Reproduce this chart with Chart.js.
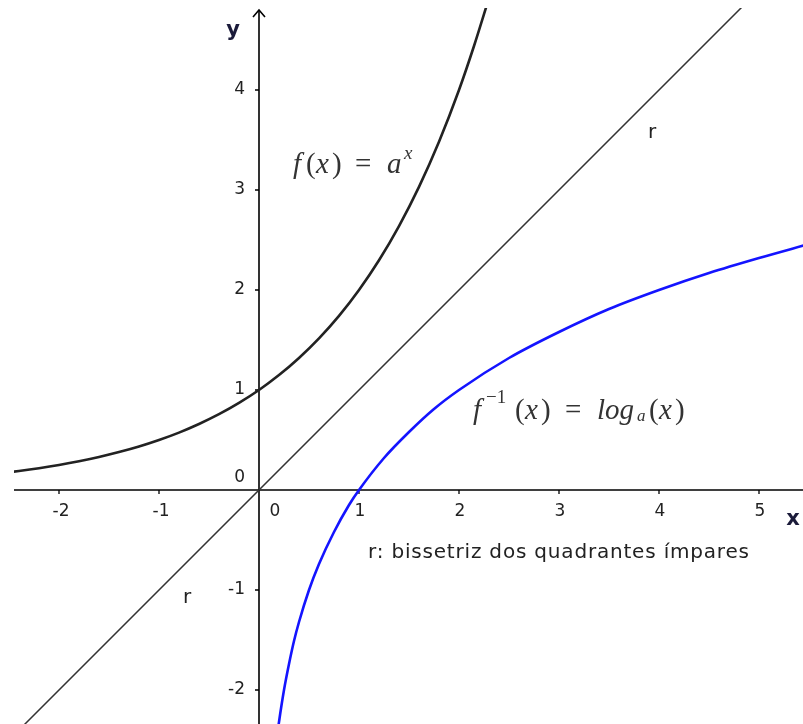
<!DOCTYPE html>
<html>
<head>
<meta charset="utf-8">
<script src="https://cdn.jsdelivr.net/npm/chart.js@4"></script>
<style>
  html, body { margin: 0; padding: 0; background: #fff; }
  #wrap { width: 803px; height: 724px; }
</style>
</head>
<body>
<div id="wrap"><canvas id="c" width="803" height="724"></canvas></div>
<script>
// values (axes cross at the origin)
const expX = [-2.6, -2.4, -2.2, -2, -1.8, -1.6, -1.4, -1.2, -1, -0.8, -0.6, -0.4, -0.2, 0, 0.2, 0.4, 0.6, 0.8, 1, 1.2, 1.4, 1.6, 1.8, 2, 2.15, 2.3];
const expY = [0.165, 0.19, 0.218, 0.25, 0.287, 0.33, 0.379, 0.435, 0.5, 0.574, 0.66, 0.758, 0.871, 1.0, 1.149, 1.32, 1.516, 1.741, 2.0, 2.297, 2.639, 3.031, 3.482, 4.0, 4.44, 4.92];

const logX = [0.18, 0.2, 0.25, 0.3, 0.35, 0.4, 0.5, 0.6, 0.75, 0.9, 1, 1.25, 1.5, 1.75, 2, 2.5, 3, 3.5, 4, 4.5, 5, 5.5];
const logY = [-2.47, -2.32, -2.00, -1.74, -1.51, -1.32, -1.00, -0.74, -0.42, -0.15, 0, 0.32, 0.58, 0.81, 1.00, 1.32, 1.58, 1.81, 2.00, 2.17, 2.32, 2.46];

const rX = [-2.6, 5.0];
const rY = [-2.6, 5.0];

const xTicks = [-2, -1, 1, 2, 3, 4, 5];
const yTicks = [-2, -1, 1, 2, 3, 4];

const xMin = -2.45, xMax = 5.44, yMin = -2.34, yMax = 4.82;

function pts(xs, ys) { return xs.map((x, i) => ({ x: x, y: ys[i] })); }

const SERIF = '"Liberation Serif", "DejaVu Serif", serif';
const SANS = '"DejaVu Sans", "Liberation Sans", sans-serif';

// draw a text stretched to a given width with letter spacing
function spacedText(ctx, txt, x, y, width) {
  ctx.letterSpacing = '0px';
  const w = ctx.measureText(txt).width;
  const sp = (width - w) / (txt.length - 1);
  ctx.letterSpacing = sp.toFixed(2) + 'px';
  ctx.fillText(txt, x, y);
  ctx.letterSpacing = '0px';
}

// pieces: [text, x, dy, font]
function mathText(ctx, y, pieces) {
  pieces.forEach(p => {
    ctx.font = p[3];
    ctx.fillText(p[0], p[1], y + p[2]);
  });
}

// draws the GeoGebra-style axes and all text
const axesPlugin = {
  id: 'axes',
  beforeDatasetsDraw(chart) {
    const ctx = chart.ctx;
    const sx = chart.scales.x, sy = chart.scales.y;
    const ox = sx.getPixelForValue(0), oy = sy.getPixelForValue(0);
    const a = chart.chartArea;
    ctx.save();
    ctx.strokeStyle = '#000';
    ctx.lineWidth = 1.6;
    ctx.beginPath();
    ctx.moveTo(a.left, oy); ctx.lineTo(a.right, oy);
    ctx.moveTo(ox, a.bottom); ctx.lineTo(ox, a.top + 2);
    ctx.stroke();
    // arrow on y axis
    ctx.beginPath();
    ctx.moveTo(ox - 6, a.top + 9); ctx.lineTo(ox, a.top + 2); ctx.lineTo(ox + 6, a.top + 9);
    ctx.stroke();
    // ticks
    ctx.lineWidth = 1.3;
    ctx.beginPath();
    xTicks.forEach(v => { const p = sx.getPixelForValue(v); ctx.moveTo(p, oy); ctx.lineTo(p, oy + 4); });
    yTicks.forEach(v => { const p = sy.getPixelForValue(v); ctx.moveTo(ox - 4, p); ctx.lineTo(ox, p); });
    ctx.stroke();
    // tick labels
    ctx.fillStyle = '#222';
    ctx.font = '17px ' + SANS;
    ctx.textBaseline = 'middle';
    ctx.textAlign = 'center';
    xTicks.forEach(v => ctx.fillText(String(v), sx.getPixelForValue(v) + (v < 0 ? 2 : 1), oy + 22));
    ctx.textAlign = 'right';
    yTicks.forEach(v => ctx.fillText(String(v), ox - 14, sy.getPixelForValue(v)));
    ctx.fillText('0', ox - 14, oy - 12);
    ctx.textAlign = 'center';
    ctx.fillText('0', ox + 16, oy + 22);
    // axis names
    ctx.fillStyle = '#1b1b3a';
    ctx.font = 'bold 21px ' + SANS;
    ctx.fillText('y', 233, 31);
    ctx.fillText('x', 793, 520);
    // other labels
    ctx.fillStyle = '#222';
    ctx.font = '20px ' + SANS;
    ctx.textAlign = 'left';
    ctx.fillText('r', 648, 133);
    ctx.fillText('r', 183, 598);
    ctx.font = '20px ' + SANS;
    spacedText(ctx, 'r: bissetriz dos quadrantes ímpares', 368, 553, 381);
    // formulas
    ctx.fillStyle = '#333';
    const it = 'italic 29px ' + SERIF, rm = '29px ' + SERIF;
    mathText(ctx, 165, [
      ['f', 293, 0, it], ['(', 306, 0, rm], ['x', 316, 0, it], [')', 332, 0, rm],
      ['=', 355, 0, rm], ['a', 387, 0, it], ['x', 404, -11, 'italic 19px ' + SERIF]
    ]);
    mathText(ctx, 411, [
      ['f', 473, 0, it], ['\u22121', 486, -13, '19px ' + SERIF], ['(', 515, 0, rm], ['x', 525, 0, it], [')', 541, 0, rm],
      ['=', 565, 0, rm], ['log', 597, 0, it], ['a', 637, 6, 'italic 17px ' + SERIF],
      ['(', 649, 0, rm], ['x', 659, 0, it], [')', 675, 0, rm]
    ]);
    ctx.restore();
  }
};

new Chart(document.getElementById('c'), {
  type: 'scatter',
  data: {
    datasets: [
      { label: 'r', data: pts(rX, rY), showLine: true, borderColor: '#333', borderWidth: 1.5, pointRadius: 0, tension: 0 },
      { label: 'f(x) = a^x', data: pts(expX, expY), showLine: true, borderColor: '#222', borderWidth: 2.6, pointRadius: 0, cubicInterpolationMode: 'monotone' },
      { label: 'log_a(x)', data: pts(logX, logY), showLine: true, borderColor: '#1414ff', borderWidth: 2.6, pointRadius: 0, cubicInterpolationMode: 'monotone' }
    ]
  },
  options: {
    responsive: false,
    animation: false,
    layout: { padding: { left: 14, top: 8, right: 0, bottom: 0 } },
    plugins: { legend: { display: false }, tooltip: { enabled: false } },
    scales: {
      x: { type: 'linear', min: xMin, max: xMax, display: false },
      y: { type: 'linear', min: yMin, max: yMax, display: false }
    }
  },
  plugins: [axesPlugin]
});
</script>
</body>
</html>
